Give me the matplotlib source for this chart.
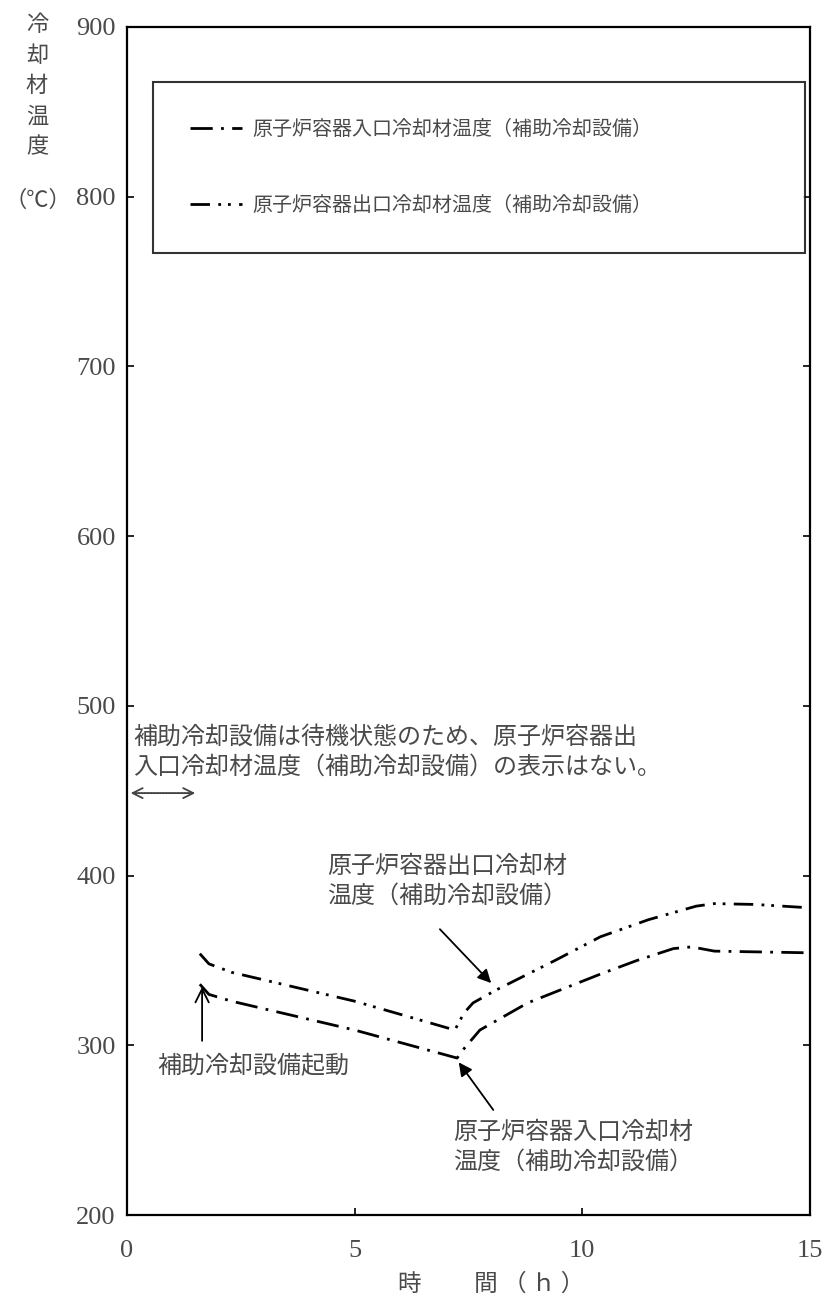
import matplotlib
matplotlib.use("Agg")
import matplotlib.pyplot as plt

plt.rcParams['font.family'] = ['Noto Sans CJK JP', 'DejaVu Sans']

# data
inlet_t = [1.6, 1.8, 2.3, 5.0, 7.25, 7.4, 7.75, 8.8, 10.4, 11.2, 12.0, 12.4, 12.9, 15.0]
inlet_T = [336, 330, 326, 309, 292.5, 298, 309, 325, 342, 350, 357, 358, 355.5, 354.5]

outlet_t = [1.6, 1.8, 2.3, 5.0, 7.2, 7.4, 7.6, 8.1, 9.4, 10.4, 11.45, 12.5, 12.9, 13.8, 15.0]
outlet_T = [354, 348, 343, 326, 309, 319, 325, 332.5, 350, 364, 374, 382, 383.5, 383, 381]

inlet_label = "原子炉容器入口冷却材温度（補助冷却設備）"
outlet_label = "原子炉容器出口冷却材温度（補助冷却設備）"

x_ticks = [0, 5, 10, 15]
y_ticks = [200, 300, 400, 500, 600, 700, 800, 900]

txtc = "#4a4a4a"
num_font = "Liberation Serif"

fig = plt.figure(figsize=(8.32, 13.15), dpi=100)
ax = fig.add_axes([0.1526, 0.076, 0.8210, 0.9035])

ax.plot(inlet_t, inlet_T, color="black", lw=2, linestyle=(0, (8, 3, 1, 3)), label=inlet_label)
ax.plot(outlet_t, outlet_T, color="black", lw=2, linestyle=(0, (7, 3, 1, 2.5, 1, 3)), label=outlet_label)

ax.set_xlim(0, 15)
ax.set_ylim(200, 900)
ax.set_xticks(x_ticks)
ax.set_yticks(y_ticks)
ax.tick_params(direction="in", length=5, width=1.2, right=True, colors="black")
ax.tick_params(axis="y", pad=8)
ax.tick_params(axis="x", pad=18)
for lab in ax.get_xticklabels() + ax.get_yticklabels():
    lab.set_fontfamily(num_font)
    lab.set_fontsize(19)
    lab.set_color(txtc)
for s in ax.spines.values():
    s.set_linewidth(1.6)

# axis titles
fig.text(37 / 832, 1 - 13 / 1315, "冷\n却\n材\n温\n度", ha="center", va="top",
         fontsize=16, color=txtc, linespacing=1.42)
fig.text(38 / 832, 1 - 200 / 1315, "（℃）", ha="center", va="center",
         fontsize=16, color=txtc)
fig.text(398 / 832, 1 - 1284 / 1315, "時　　 間 （ ｈ ）", ha="left", va="center",
         fontsize=17, color=txtc)

leg = ax.legend(loc="upper left", bbox_to_anchor=(0.038, 0.9437, 0.9547, 0.01), mode="expand",
                frameon=True, fancybox=False, fontsize=14.4, handlelength=2.6, handletextpad=0.5,
                labelspacing=2.75, borderpad=1.85, borderaxespad=0)
leg.get_frame().set_edgecolor("black")
leg.get_frame().set_linewidth(1.5)
for t in leg.get_texts():
    t.set_color(txtc)

# notes
ax.text(0.13, 473, "補助冷却設備は待機状態のため、原子炉容器出\n入口冷却材温度（補助冷却設備）の表示はない。",
        ha="left", va="center", fontsize=17.3, color=txtc, linespacing=1.2)
ax.annotate("", xy=(0.02, 448.6), xytext=(1.56, 448.6),
            arrowprops=dict(arrowstyle="<->", lw=1.3, color="#444444", mutation_scale=18))
ax.plot([0.3, 1.28], [448.6, 448.6], color="white", lw=3, solid_capstyle="butt")
ax.plot([0.1, 1.48], [448.6, 448.6], color="#666666", lw=1.1, linestyle=(0, (1, 1)))

ax.text(0.66, 288, "補助冷却設備起動", ha="left", va="center", fontsize=17.3, color=txtc)
ax.annotate("", xy=(1.65, 336), xytext=(1.65, 301),
            arrowprops=dict(arrowstyle="->", lw=1.3, color="black", mutation_scale=24))

ax.text(4.39, 396.8, "原子炉容器出口冷却材\n温度（補助冷却設備）", ha="left", va="center",
        fontsize=17.3, color=txtc, linespacing=1.2)
ax.annotate("", xy=(8.04, 335.5), xytext=(6.83, 369.6),
            arrowprops=dict(arrowstyle="-|>", lw=1.3, color="black", mutation_scale=20))

ax.text(7.16, 240, "原子炉容器入口冷却材\n温度（補助冷却設備）", ha="left", va="center",
        fontsize=17.3, color=txtc, linespacing=1.2)
ax.annotate("", xy=(7.25, 291.3), xytext=(8.08, 260.6),
            arrowprops=dict(arrowstyle="-|>", lw=1.3, color="black", mutation_scale=20))

fig.savefig("out.png", dpi=100)
